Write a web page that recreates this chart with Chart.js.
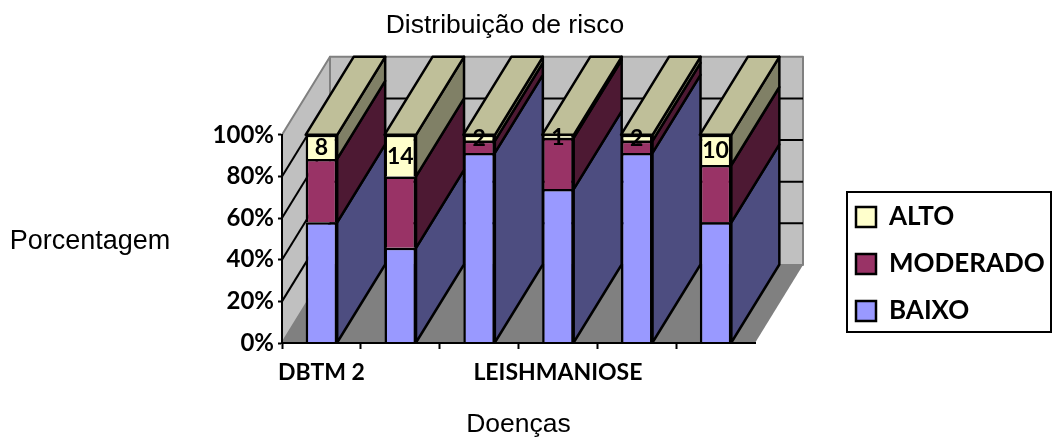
<!DOCTYPE html>
<html>
<head>
<meta charset="utf-8">
<title>Distribuição de risco</title>
<script src="https://cdn.jsdelivr.net/npm/chart.js@4"></script>
<style>
  body { margin: 0; background: #fff; }
  canvas { display: block; }
</style>
</head>
<body>
<canvas id="myChart" width="1053" height="437"></canvas>
<script>
// values, most category names are not shown there
const categorias = ['DBTM 2', '', '', 'LEISHMANIOSE', '', ''];
const baixo = [40, 32, 63, 51, 63, 40];
const moderado = [21, 24, 4, 17, 4, 19];
const alto = [8, 14, 2, 1, 2, 10];
const ticksY = [0, 20, 40, 60, 80, 100];

// the chart is 100% stacked
function porcento(serie) {
    return serie.map(function (v, i) {
        return v / (baixo[i] + moderado[i] + alto[i]) * 100;
    });
}

const fonte = 'Lato, sans-serif';
const fonteTitulo = '"Liberation Sans", Arial, sans-serif';
const prof = { x: 48, y: -78 };
const coresFrente = ['#9999ff', '#993366', '#ffffcc'];
const coresLado = ['#4d4d80', '#4d1933', '#808066'];
const corTopo = '#bfbf99';

function poligono(ctx, pts, fill, stroke, largura) {
    ctx.beginPath();
    pts.forEach(function (p, i) {
        if (i == 0) ctx.moveTo(p[0], p[1]); else ctx.lineTo(p[0], p[1]);
    });
    ctx.closePath();
    if (fill) { ctx.fillStyle = fill; ctx.fill(); }
    if (stroke) { ctx.strokeStyle = stroke; ctx.lineWidth = largura || 2; ctx.lineJoin = 'round'; ctx.stroke(); }
}

function linha(ctx, x1, y1, x2, y2, cor) {
    ctx.beginPath();
    ctx.moveTo(x1, y1);
    ctx.lineTo(x2, y2);
    ctx.strokeStyle = cor;
    ctx.lineWidth = 2;
    ctx.stroke();
}

const plugin3d = {
    id: 'plugin3d',
    afterLayout: function (chart) {
        // title and legend sit away from where the layout puts them
        const pad = chart.options.plugins.legend.labels.padding;
        chart.titleBlock.left = 0;
        chart.titleBlock.right = 1010;
        chart.legend.left = 856 - pad;
        chart.legend.right = 1053;
        chart.legend.top = 204 - pad;
        chart.legend.bottom = 437;
    },
    // walls, floor and their grid lines
    beforeDraw: function (chart) {
        const ctx = chart.ctx;
        const a = chart.chartArea;
        const dx = prof.x, dy = prof.y;
        const y0 = chart.scales.y.getPixelForValue(0);
        const y100 = chart.scales.y.getPixelForValue(100);
        ctx.save();
        poligono(ctx, [[a.left + dx, y100 + dy], [a.right + dx, y100 + dy], [a.right + dx, y0 + dy], [a.left + dx, y0 + dy]], '#c0c0c0', '#808080');
        poligono(ctx, [[a.left, y100], [a.left + dx, y100 + dy], [a.left + dx, y0 + dy], [a.left, y0]], '#c0c0c0', '#808080');
        poligono(ctx, [[a.left, y0], [a.left + dx, y0 + dy], [a.right + dx, y0 + dy], [a.right, y0]], '#808080', null);
        ticksY.forEach(function (v) {
            if (v == 0 || v == 100) return;
            const y = chart.scales.y.getPixelForValue(v);
            linha(ctx, a.left, y, a.left + dx, y + dy, '#000');
            linha(ctx, a.left + dx, y + dy, a.right + dx, y + dy, '#000');
        });
        ctx.restore();
    },
    // sides of the bars and the top of the stack
    beforeDatasetsDraw: function (chart) {
        const ctx = chart.ctx;
        const dx = prof.x, dy = prof.y;
        ctx.save();
        chart.data.datasets.forEach(function (ds, d) {
            chart.getDatasetMeta(d).data.forEach(function (bar) {
                const dir = bar.x + bar.width / 2;
                const esq = bar.x - bar.width / 2;
                poligono(ctx, [[dir, bar.y], [dir + dx, bar.y + dy], [dir + dx, bar.base + dy], [dir, bar.base]], coresLado[d], '#000', 2.5);
                if (d == chart.data.datasets.length - 1) {
                    poligono(ctx, [[esq, bar.y], [esq + dx, bar.y + dy], [dir + dx, bar.y + dy], [dir, bar.y]], corTopo, '#000', 2.5);
                }
            });
        });
        ctx.restore();
    },
    afterDatasetsDraw: function (chart) {
        const ctx = chart.ctx;
        ctx.save();
        // labels only on the ALTO series
        ctx.font = 'bold 23px ' + fonte;
        ctx.fillStyle = '#000';
        ctx.textAlign = 'center';
        ctx.textBaseline = 'middle';
        chart.getDatasetMeta(2).data.forEach(function (bar, i) {
            ctx.fillText(alto[i], bar.x, (bar.y + bar.base) / 2 + 1);
        });
        // y axis name is horizontal here
        ctx.font = '27px ' + fonteTitulo;
        ctx.fillText('Porcentagem', 90, chart.scales.y.getPixelForValue(50) + 3);
        // frame of the legend
        ctx.strokeStyle = '#000';
        ctx.lineWidth = 2;
        ctx.strokeRect(847, 192, 204, 140);
        ctx.restore();
    }
};

var ctx = document.getElementById('myChart').getContext('2d');
var chart = new Chart(ctx, {
    type: 'bar',
    data: {
        labels: categorias,
        datasets: [
            { label: 'BAIXO', data: porcento(baixo), backgroundColor: coresFrente[0] },
            { label: 'MODERADO', data: porcento(moderado), backgroundColor: coresFrente[1] },
            { label: 'ALTO', data: porcento(alto), backgroundColor: coresFrente[2] }
        ]
    },
    options: {
        responsive: false,
        animation: false,
        layout: { padding: { left: 202, right: 298, top: 0, bottom: 0 } },
        datasets: {
            bar: {
                categoryPercentage: 1,
                barPercentage: 0.4,
                borderColor: '#000',
                borderWidth: 2.5,
                borderSkipped: 'bottom',
                inflateAmount: 0
            }
        },
        scales: {
            x: {
                stacked: true,
                offset: true,
                afterFit: function (scale) { scale.height = 94; },
                border: { color: '#000', width: 2, z: 1 },
                grid: {
                    offset: true,
                    drawOnChartArea: false,
                    tickLength: 6,
                    tickWidth: 2,
                    tickColor: function (c) { return c.type == 'tick' ? '#000' : 'transparent'; }
                },
                ticks: {
                    autoSkip: false,
                    maxRotation: 0,
                    padding: 10,
                    color: '#000',
                    font: { family: fonte, size: 23, weight: 'bold' }
                },
                title: {
                    display: true,
                    text: 'Doenças',
                    color: '#000',
                    padding: { top: 0, bottom: 0 },
                    font: { family: fonteTitulo, size: 26.5, lineHeight: 0.9 }
                }
            },
            y: {
                stacked: true,
                min: 0,
                max: 100,
                afterFit: function (scale) { scale.width = 80; },
                border: { color: '#000', width: 2 },
                grid: { drawOnChartArea: false, tickLength: 4, tickWidth: 2, tickColor: '#000' },
                ticks: {
                    stepSize: 20,
                    padding: 4,
                    color: '#000',
                    font: { family: fonte, size: 24, weight: 'bold' },
                    callback: function (v) { return v + '%'; }
                }
            }
        },
        plugins: {
            tooltip: { enabled: false },
            title: {
                display: true,
                text: 'Distribuição de risco',
                color: '#000',
                padding: { top: 10, bottom: 93 },
                font: { family: fonteTitulo, size: 26.5, weight: 'normal', lineHeight: 1.2 }
            },
            legend: {
                position: 'chartArea',
                align: 'start',
                reverse: true,
                labels: {
                    boxWidth: 20,
                    boxHeight: 20,
                    padding: 21,
                    color: '#000',
                    font: { family: fonte, size: 26, weight: 'bold' }
                }
            }
        }
    },
    plugins: [plugin3d]
});
</script>
</body>
</html>
